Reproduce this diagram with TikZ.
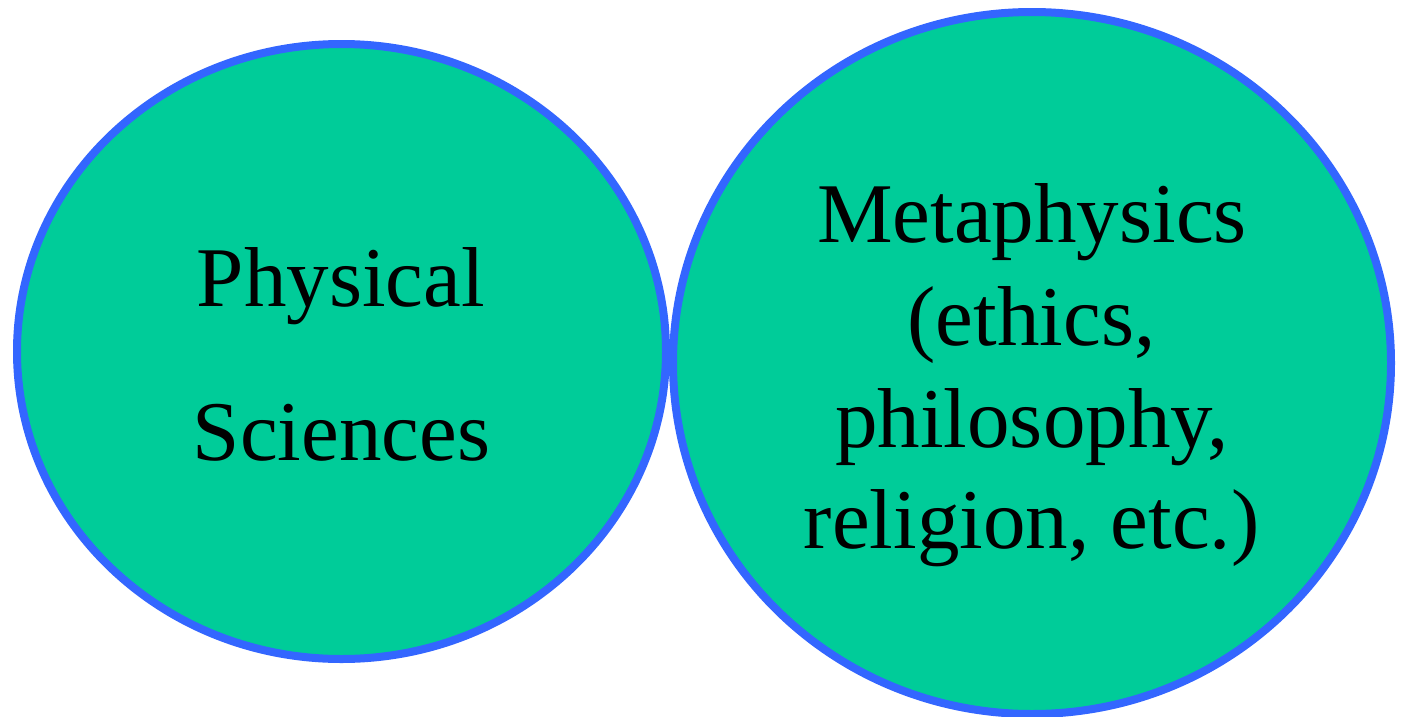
\documentclass[tikz,border=0pt]{standalone}
\usepackage{fontspec}
\setmainfont{Liberation Serif}
\usetikzlibrary{shapes.geometric}
\definecolor{sciencegreen}{HTML}{00CC99}
\definecolor{rimblue}{HTML}{3366FF}
\tikzset{
    field/.style = {ellipse, draw = rimblue, fill = sciencegreen, line width = 8pt, inner sep = 0pt, outer sep = 0pt},
    word/.style = {anchor = base, inner sep = 0pt, font = \fontsize{85}{100}\selectfont}
}
\begin{document}
\begin{tikzpicture}[x = 1pt, y = -1pt]
                \useasboundingbox (0,0) rectangle (1401,716);

                \node[field, minimum width = 649pt, minimum height = 615pt] (phys) at (341.5,351.5) {};
                \node[field, minimum width = 718pt, minimum height = 702pt] (meta) at (1032,363) {};

                \node[word] (physA) at (341,306) {Physical};
                \node[word] (physB) at (341.5,460) {Sciences};

                \node[word] (metaA) at (1032,242) {Metaphysics};
                \node[word] (metaB) at (1031.5,345) {(ethics,};
                \node[word] (metaC) at (1032,447) {philosophy,};
                \node[word] (metaD) at (1031.5,548) {religion, etc.)};
            \end{tikzpicture}
\end{document}
